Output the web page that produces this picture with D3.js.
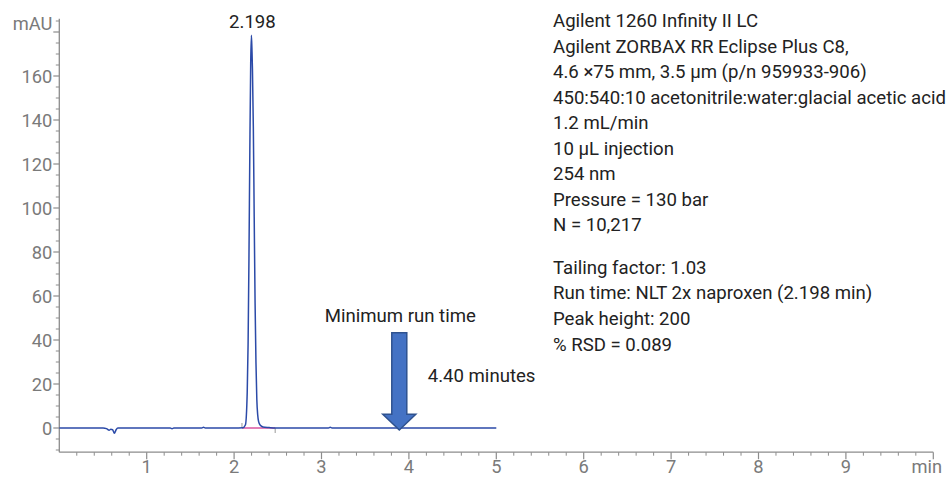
<!DOCTYPE html>
<html>
<head>
<meta charset="utf-8">
<script src="https://cdn.jsdelivr.net/npm/d3@7"></script>
<style>
  body { margin: 0; background: #fff; }
  text { font-family: Roboto, "Noto Sans", sans-serif; }
</style>
</head>
<body>
<div id="chart"></div>
<script>
// chromatogram trace (min, mAU)
var timeMin = [0, 0.40, 0.50, 0.54, 0.57, 0.59, 0.61, 0.63, 0.65, 0.67, 0.80, 1.27, 1.29, 1.31, 1.63, 1.65, 1.67,
  2.00, 2.10, 2.13, 2.15, 2.16, 2.17, 2.18, 2.19, 2.198, 2.205, 2.21, 2.22, 2.23, 2.24, 2.25, 2.26, 2.27, 2.28,
  2.30, 2.33, 2.40, 2.47, 3.00, 3.08, 3.10, 3.12, 4.00, 5.00];
var signalMAU = [0, 0, 0, -0.3, -1.0, -0.6, -0.8, -2.4, -0.8, 0, 0, 0, -0.3, 0, 0, 0.3, 0,
  0, 0.1, 1.5, 16, 38, 77, 126, 166, 178.5, 171, 163, 137, 96, 57, 30, 13, 6, 3,
  1.2, 0.5, 0.2, 0, 0, 0, 0.3, 0, 0, 0];

var peakTime = 2.198;
var peakLabel = "2.198";
var peakStart = 2.09, peakEnd = 2.47;

var xTicks = [1, 2, 3, 4, 5, 6, 7, 8, 9];
var yTicks = [0, 20, 40, 60, 80, 100, 120, 140, 160];
var xUnit = "min", yUnit = "mAU";

var arrowTime = 3.89, arrowTop = 43.3, arrowHead = 6.2, arrowTip = -0.9;
var arrowTitle = "Minimum run time", arrowNote = "4.40 minutes";

var methodLines = [
  "Agilent 1260 Infinity II LC",
  "Agilent ZORBAX RR Eclipse Plus C8,",
  "4.6 ×75 mm, 3.5 µm (p/n 959933-906)",
  "450:540:10 acetonitrile:water:glacial acetic acid",
  "1.2 mL/min",
  "10 µL injection",
  "254 nm",
  "Pressure = 130 bar",
  "N = 10,217"
];
var resultLines = [
  "Tailing factor: 1.03",
  "Run time: NLT 2x naproxen (2.198 min)",
  "Peak height: 200",
  "% RSD = 0.089"
];

var svgWidth = 948, svgHeight = 479;
var axisColor = "#8c8c8c", labelColor = "#7a7a7a", textColor = "#222";
var tickFont = 18.3, noteFont = 18.6;

var svg = d3.select("#chart").append("svg")
    .attr("width", svgWidth)
    .attr("height", svgHeight);

var x = d3.scaleLinear().domain([0, 10]).range([59.3, 933.3]);
var y = d3.scaleLinear().domain([-11, 186]).range([452.2, 18.8]);

// x axis
var xg = svg.append("g")
    .attr("transform", "translate(0," + y(-11) + ")");
xg.append("line")
    .attr("x1", x(0)).attr("x2", x(10))
    .attr("stroke", axisColor).attr("stroke-width", 1.3);
xg.selectAll(".minor")
    .data(d3.range(0, 50).map(function(i) { return i * 0.2; }).filter(function(d) { return Math.abs(d - Math.round(d)) > 0.01; }))
  .enter().append("line")
    .attr("x1", function(d) { return x(d); }).attr("x2", function(d) { return x(d); })
    .attr("y1", 0).attr("y2", 3.5)
    .attr("stroke", axisColor).attr("stroke-width", 1);
xg.selectAll(".major")
    .data(xTicks.concat([10]))
  .enter().append("line")
    .attr("x1", function(d) { return x(d); }).attr("x2", function(d) { return x(d); })
    .attr("y1", 0).attr("y2", 7)
    .attr("stroke", axisColor).attr("stroke-width", 1.2);
xg.selectAll(".lbl")
    .data(xTicks)
  .enter().append("text")
    .attr("x", function(d) { return x(d); })
    .attr("y", 20.5)
    .attr("text-anchor", "middle")
    .attr("font-size", tickFont)
    .attr("fill", labelColor)
    .text(function(d) { return d; });
xg.append("text")
    .attr("x", 942).attr("y", 20.5)
    .attr("text-anchor", "end")
    .attr("font-size", tickFont)
    .attr("fill", labelColor)
    .text(xUnit);

// y axis
var yg = svg.append("g")
    .attr("transform", "translate(" + x(0) + ",0)");
yg.append("line")
    .attr("y1", y(-11)).attr("y2", y(186))
    .attr("stroke", axisColor).attr("stroke-width", 1.3);
yg.selectAll(".minor")
    .data(d3.range(-10, 186, 5).filter(function(d) { return d % 20 !== 0; }))
  .enter().append("line")
    .attr("y1", function(d) { return y(d); }).attr("y2", function(d) { return y(d); })
    .attr("x1", 0).attr("x2", -3.5)
    .attr("stroke", axisColor).attr("stroke-width", 1);
yg.selectAll(".major")
    .data(yTicks.concat([180]))
  .enter().append("line")
    .attr("y1", function(d) { return y(d); }).attr("y2", function(d) { return y(d); })
    .attr("x1", 0).attr("x2", -6)
    .attr("stroke", axisColor).attr("stroke-width", 1.2);
yg.selectAll(".lbl")
    .data(yTicks)
  .enter().append("text")
    .attr("x", -7)
    .attr("y", function(d) { return y(d); })
    .attr("dy", "0.36em")
    .attr("text-anchor", "end")
    .attr("font-size", tickFont)
    .attr("fill", labelColor)
    .text(function(d) { return d; });
yg.append("text")
    .attr("x", -7).attr("y", 30)
    .attr("text-anchor", "end")
    .attr("font-size", tickFont)
    .attr("fill", labelColor)
    .text(yUnit);

// integration baseline + markers
svg.append("line")
    .attr("x1", x(peakStart)).attr("x2", x(peakEnd))
    .attr("y1", y(0)).attr("y2", y(0))
    .attr("stroke", "#d9559f").attr("stroke-width", 1.5);
svg.append("line")
    .attr("x1", x(peakStart)).attr("x2", x(peakStart))
    .attr("y1", y(0)).attr("y2", y(0) - 5)
    .attr("stroke", "#999").attr("stroke-width", 1);
svg.append("line")
    .attr("x1", x(peakEnd)).attr("x2", x(peakEnd))
    .attr("y1", y(0)).attr("y2", y(0) + 5)
    .attr("stroke", "#999").attr("stroke-width", 1);

// trace
var trace = timeMin.map(function(t, i) { return { t: t, v: signalMAU[i] }; });
var line = d3.line()
    .x(function(d) { return x(d.t); })
    .y(function(d) { return y(d.v); })
    .curve(d3.curveMonotoneX);
svg.append("path")
    .datum(trace)
    .attr("fill", "none")
    .attr("stroke", "#2b4aa8")
    .attr("stroke-width", 1.5)
    .attr("stroke-linejoin", "round")
    .attr("d", line);

svg.append("text")
    .attr("x", x(peakTime) + 1).attr("y", 28.3)
    .attr("text-anchor", "middle")
    .attr("font-size", noteFont)
    .attr("fill", textColor)
    .text(peakLabel);

// block arrow for minimum run time
var ax = x(arrowTime), shaftHalf = 7.5, headHalf = 16.5;
var arrowPts = [
  [ax - shaftHalf, y(arrowTop)], [ax + shaftHalf, y(arrowTop)],
  [ax + shaftHalf, y(arrowHead)], [ax + headHalf, y(arrowHead)],
  [ax, y(arrowTip)],
  [ax - headHalf, y(arrowHead)], [ax - shaftHalf, y(arrowHead)]
];
svg.append("polygon")
    .attr("points", arrowPts.map(function(p) { return p.join(","); }).join(" "))
    .attr("fill", "#4472c4")
    .attr("stroke", "#2f528f")
    .attr("stroke-width", 1.5);
svg.append("text")
    .attr("x", ax + 1).attr("y", 321.7)
    .attr("text-anchor", "middle")
    .attr("font-size", noteFont)
    .attr("fill", textColor)
    .text(arrowTitle);
svg.append("text")
    .attr("x", 427.7).attr("y", 381.7)
    .attr("font-size", noteFont)
    .attr("fill", textColor)
    .text(arrowNote);

// method / result notes
svg.selectAll(".method")
    .data(methodLines)
  .enter().append("text")
    .attr("x", 553)
    .attr("y", function(d, i) { return 27.3 + i * 25.5; })
    .attr("font-size", noteFont)
    .attr("fill", textColor)
    .text(function(d) { return d; });
svg.selectAll(".result")
    .data(resultLines)
  .enter().append("text")
    .attr("x", 553)
    .attr("y", function(d, i) { return 273.5 + i * 25.7; })
    .attr("font-size", noteFont)
    .attr("fill", textColor)
    .text(function(d) { return d; });
</script>
</body>
</html>
